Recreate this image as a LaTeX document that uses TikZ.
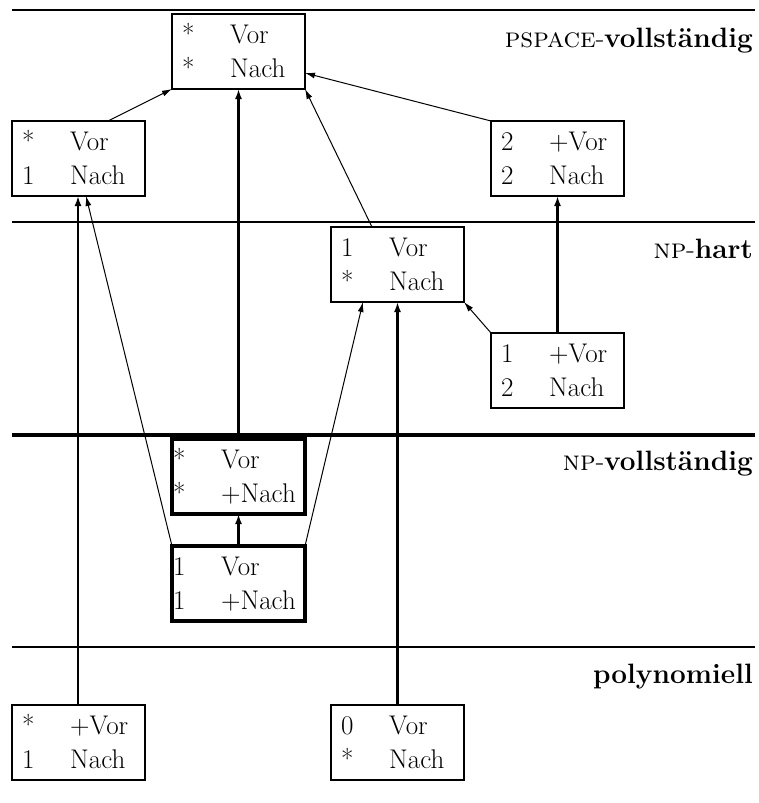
\documentclass[tikz,border=0pt]{standalone}
\usepackage{fontspec}
\usetikzlibrary{arrows.meta,calc}
\tikzset{
  hline/.style={line width=2.6pt},
  hlinedick/.style={line width=3.6pt},
  kasten/.style={draw, line width=2.6pt, rectangle, minimum width=133pt,
    minimum height=75pt, inner sep=0pt, outer sep=0pt, anchor=north west},
  kastendick/.style={line width=3.4pt},
  txt/.style={inner sep=0pt, anchor=base west,
    font=\fontsize{27}{34}\selectfont\addfontfeatures{LetterSpace=5}},
  lab/.style={inner sep=0pt, anchor=base east, font=\fontsize{28}{34}\selectfont},
  dunn/.style={line width=1pt, -{Latex[length=10pt,width=6pt]}},
  stark/.style={line width=2.6pt, -{Latex[length=10pt,width=7pt]}},
  sehrstark/.style={line width=3.4pt, -{Latex[length=10pt,width=7pt]}},
}
\newcommand\Kbox[8]{%
  \node[kasten,#3] (#1) at (#2) {};
  \node[txt] (#1o) at ([xshift=#4,yshift=-29pt]#1.north west) {\makebox[48pt][l]{#5}#6};
  \node[txt] (#1u) at ([xshift=#4,yshift=-63pt]#1.north west) {\makebox[48pt][l]{#7}#8};
}
\newcommand\Klass[1]{{\addfontfeatures{LetterSpace=8}\textsc{#1}}}
\begin{document}
\begin{tikzpicture}[x=1pt,y=-1pt]
\useasboundingbox (0,0) rectangle (758,803);
% level lines
\coordinate (l1a) at (12,10);  \coordinate (l1b) at (755,10);
\coordinate (l2a) at (12,222); \coordinate (l2b) at (755,222);
\coordinate (l3a) at (12,435); \coordinate (l3b) at (755,435);
\coordinate (l4a) at (12,647); \coordinate (l4b) at (755,647);
\draw[hline] (l1a) -- (l1b);
\draw[hline] (l2a) -- (l2b);
\draw[hlinedick] (l3a) -- (l3b);
\draw[hline] (l4a) -- (l4b);
% labels
\node[lab] (t1) at (753,47) {\Klass{pspace}-\textbf{vollständig}};
\node[lab] (t2) at (753,258) {\Klass{np}-\textbf{hart}};
\node[lab] (t3) at (753,470) {\Klass{np}-\textbf{vollständig}};
\node[lab] (t4) at (753,683) {\textbf{polynomiell}};
% boxes
\Kbox{A}{172,14}{}{10pt}{*}{Vor}{*}{Nach}
\Kbox{B}{12,121}{}{10pt}{*}{Vor}{1}{Nach}
\Kbox{C}{491,121}{}{10pt}{2}{+Vor}{2}{Nach}
\Kbox{D}{331,227}{}{10pt}{1}{Vor}{*}{Nach}
\Kbox{E}{491,333}{}{10pt}{1}{+Vor}{2}{Nach}
\Kbox{F}{172,439}{kastendick}{1pt}{*}{Vor}{*}{+Nach}
\Kbox{G}{172,546}{kastendick}{1pt}{1}{Vor}{1}{+Nach}
\Kbox{H}{12,705}{}{10pt}{*}{+Vor}{1}{Nach}
\Kbox{I}{331,705}{}{10pt}{0}{Vor}{*}{Nach}
% connectors
\draw[dunn] ([xshift=96pt]B.north west) -- (A.south west);
\draw[stark] (F.north) -- (F.north |- A.south);
\draw[dunn] ([xshift=41pt]D.north west) -- (A.south east);
\draw[dunn] (C.north west) -- ([yshift=16pt]A.south east);
\draw[stark] (E.north) -- (C.south);
\draw[dunn] (E.north west) -- (D.south east);
\draw[sehrstark] (I.north) -- (D.south);
\draw[dunn] (G.north east) -- ([xshift=32pt]D.south west);
\draw[dunn] (G.north west) -- ([xshift=74pt]B.south west);
\draw[stark] ([xshift=66pt]H.north west) -- ([xshift=66pt]B.south west);
\draw[stark] (G.north) -- (F.south);
\end{tikzpicture}
\end{document}
